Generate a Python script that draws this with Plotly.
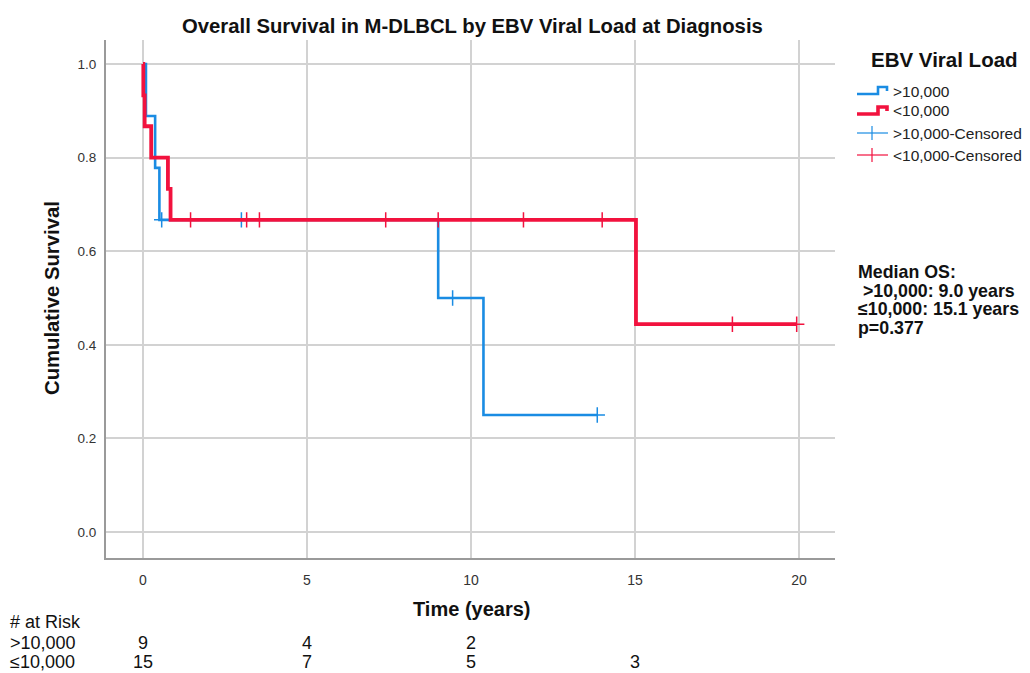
import plotly.graph_objects as go

# ---------------- data ----------------
blue_name = ">10,000"
red_name = "<10,000"

blue_times = [0.0, 0.09, 0.37, 0.50, 9.00, 10.38, 13.85]
blue_surv = [1.0, 0.889, 0.778, 0.667, 0.500, 0.250, 0.250]
blue_cens_t = [0.57, 3.00, 9.44, 13.85]
blue_cens_s = [0.667, 0.667, 0.500, 0.250]

red_times = [0.0, 0.01, 0.05, 0.25, 0.76, 0.84, 15.03, 19.93]
red_surv = [1.0, 0.933, 0.867, 0.800, 0.733, 0.667, 0.444, 0.444]
red_cens_t = [1.45, 3.16, 3.55, 7.40, 9.00, 11.60, 14.00, 17.97, 19.93]
red_cens_s = [0.667, 0.667, 0.667, 0.667, 0.667, 0.667, 0.667, 0.444, 0.444]

x_ticks = [0, 5, 10, 15, 20]
y_ticks = [0.0, 0.2, 0.4, 0.6, 0.8, 1.0]
y_tick_labels = ["0.0", "0.2", "0.4", "0.6", "0.8", "1.0"]

risk_times = [0, 5, 10, 15]
risk_blue = ["9", "4", "2", ""]
risk_red = ["15", "7", "5", "3"]
risk_row_labels = [">10,000", "≤10,000"]

legend_labels = [">10,000", "<10,000", ">10,000-Censored", "<10,000-Censored"]
median_lines = ["Median OS:", " >10,000: 9.0 years", "≤10,000: 15.1 years", "p=0.377"]

# ---------------- style ----------------
BLUE = "#1a8ce3"
RED = "#f2123e"
FONT = "Liberation Sans, Arial, sans-serif"
W, H = 1030, 673
L, R, T, B = 106, 835, 40, 558


def px(x):  # page pixel -> paper
    return (x - L) / (R - L)


def py(y):
    return (B - y) / (B - T)


fig = go.Figure()
fig.add_trace(go.Scatter(x=blue_times, y=blue_surv, mode="lines", line_shape="hv",
                         line=dict(color=BLUE, width=2.6), name=blue_name, showlegend=False))
fig.add_trace(go.Scatter(x=blue_cens_t, y=blue_cens_s, mode="markers",
                         marker=dict(symbol="cross-thin", size=11, line=dict(color=BLUE, width=1.5)),
                         showlegend=False))
fig.add_trace(go.Scatter(x=red_times, y=red_surv, mode="lines", line_shape="hv",
                         line=dict(color=RED, width=3.8), name=red_name, showlegend=False))
fig.add_trace(go.Scatter(x=red_cens_t, y=red_cens_s, mode="markers",
                         marker=dict(symbol="cross-thin", size=11, line=dict(color=RED, width=1.5)),
                         showlegend=False))

ann = []
shapes = []

# title
ann.append(dict(text="<b>Overall Survival in M-DLBCL by EBV Viral Load at Diagnosis</b>",
                x=px(472), y=py(26), xref="paper", yref="paper", showarrow=False,
                font=dict(size=20.3, color="#111"), xanchor="center", yanchor="middle"))
# axis titles
ann.append(dict(text="<b>Cumulative Survival</b>", x=px(52), y=py(298), xref="paper", yref="paper",
                showarrow=False, textangle=-90, font=dict(size=20.3, color="#111"),
                xanchor="center", yanchor="middle"))
ann.append(dict(text="<b>Time (years)</b>", x=px(471), y=py(609), xref="paper", yref="paper",
                showarrow=False, font=dict(size=20, color="#111"), xanchor="center", yanchor="middle"))

# risk table
ann.append(dict(text="# at Risk", x=px(8), y=py(622), xref="paper", yref="paper", showarrow=False,
                font=dict(size=18, color="#111"), xanchor="left", yanchor="middle"))
for lab, yy in zip(risk_row_labels, [643, 662]):
    ann.append(dict(text=lab, x=px(8), y=py(yy), xref="paper", yref="paper", showarrow=False,
                    font=dict(size=18, color="#111"), xanchor="left", yanchor="middle"))
for t, v in zip(risk_times, risk_blue):
    if v:
        ann.append(dict(text=v, x=t, y=py(643), xref="x", yref="paper", showarrow=False,
                        font=dict(size=18, color="#111"), xanchor="center", yanchor="middle"))
for t, v in zip(risk_times, risk_red):
    if v:
        ann.append(dict(text=v, x=t, y=py(662), xref="x", yref="paper", showarrow=False,
                        font=dict(size=18, color="#111"), xanchor="center", yanchor="middle"))

# legend (manual)
ann.append(dict(text="<b>EBV Viral Load</b>", x=px(869), y=py(59), xref="paper", yref="paper",
                showarrow=False, font=dict(size=20.5, color="#111"), xanchor="left", yanchor="middle"))
leg_y = [91, 111, 133, 155]
for lab, yy in zip(legend_labels, leg_y):
    ann.append(dict(text=lab, x=px(891), y=py(yy), xref="paper", yref="paper", showarrow=False,
                    font=dict(size=15.5, color="#222"), xanchor="left", yanchor="middle"))
for col, yy, w in [(BLUE, leg_y[0], 2.6), (RED, leg_y[1], 3.6)]:
    path = (f"M {px(857)},{py(yy + 3)} L {px(878)},{py(yy + 3)} L {px(878)},{py(yy - 4)} "
            f"L {px(887)},{py(yy - 4)} L {px(887)},{py(yy)}")
    shapes.append(dict(type="path", path=path, xref="paper", yref="paper",
                       line=dict(color=col, width=w)))
for col, yy in [(BLUE, leg_y[2]), (RED, leg_y[3])]:
    shapes.append(dict(type="line", x0=px(857), x1=px(888), y0=py(yy), y1=py(yy),
                       xref="paper", yref="paper", line=dict(color=col, width=1.2)))
    shapes.append(dict(type="line", x0=px(872), x1=px(872), y0=py(yy - 7), y1=py(yy + 7),
                       xref="paper", yref="paper", line=dict(color=col, width=1.2)))

# median OS text
for txt, yy in zip(median_lines, [272, 290.5, 309, 327.5]):
    ann.append(dict(text=f"<b>{txt}</b>", x=px(856), y=py(yy), xref="paper", yref="paper",
                    showarrow=False, font=dict(size=17.8, color="#111"), xanchor="left",
                    yanchor="middle"))

fig.update_layout(
    width=W, height=H,
    margin=dict(l=L, r=W - R, t=T, b=H - B, pad=0),
    paper_bgcolor="white", plot_bgcolor="white",
    font=dict(family=FONT, color="#111"),
    showlegend=False,
    annotations=ann, shapes=shapes,
    xaxis=dict(range=[-1.128, 21.098], tickvals=x_ticks, ticktext=[str(v) for v in x_ticks],
               showgrid=True, gridcolor="#d2d2d2", gridwidth=1.5, zeroline=False,
               showline=True, linecolor="#9a9a9a", linewidth=2, ticks="",
               tickfont=dict(size=14, color="#333"), ticklabelstandoff=8),
    yaxis=dict(range=[-0.0556, 1.0513], tickvals=y_ticks, ticktext=y_tick_labels,
               showgrid=True, gridcolor="#d2d2d2", gridwidth=1.5, zeroline=False,
               showline=True, linecolor="#9a9a9a", linewidth=2, ticks="",
               tickfont=dict(size=13.5, color="#333"), ticklabelstandoff=5),
)

fig.write_html("out.html", config={"displayModeBar": False},
               post_script="document.body.style.margin='0px';document.body.style.overflow='hidden';")
